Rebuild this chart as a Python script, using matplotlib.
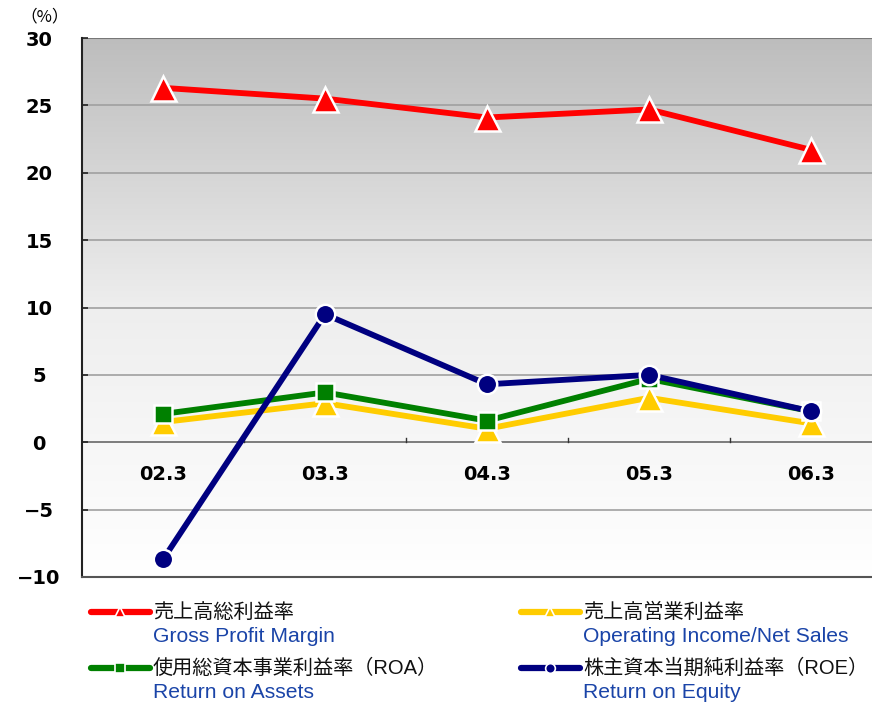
import matplotlib.pyplot as plt
import numpy as np
from matplotlib.lines import Line2D
from matplotlib.colors import LinearSegmentedColormap

# data
periods = ['02.3', '03.3', '04.3', '05.3', '06.3']
gross_margin = [26.3, 25.5, 24.1, 24.7, 21.7]
operating_margin = [1.5, 2.9, 1.0, 3.3, 1.4]
roa = [2.1, 3.7, 1.6, 4.7, 2.3]
roe = [-8.7, 9.5, 4.3, 5.0, 2.3]

jp_labels = ['売上高総利益率', '売上高営業利益率', '使用総資本事業利益率（ROA）', '株主資本当期純利益率（ROE）']
en_labels = ['Gross Profit Margin', 'Operating Income/Net Sales', 'Return on Assets', 'Return on Equity']

W, H = 872, 706
fig = plt.figure(figsize=(W / 100, H / 100), dpi=100)

def fx(px):
    return px / W

def fy(py):
    return 1 - py / H

ax = fig.add_axes([fx(82), fy(577), fx(872) - fx(82), fy(38) - fy(577)])
x = np.arange(len(periods))
ax.set_xlim(-0.5, -0.5 + (872 - 82) / 162)
ax.set_ylim(-10, 30)

# gray-to-white background gradient
grad = np.linspace(0, 1, 256).reshape(-1, 1)
cmap = LinearSegmentedColormap.from_list('bg', ['#ffffff', '#eeeeee', '#bdbdbd'])
ax.imshow(grad, aspect='auto', cmap=cmap, extent=[-0.5, 4.5, -10, 30],
          origin='lower', zorder=0)

for v in range(-5, 30, 5):
    ax.axhline(v, color='#666666' if v == 0 else '#a0a0a0', lw=1.2, zorder=1)
ax.axhline(30, color='#777777', lw=1.5, zorder=1)

for b in [0.5, 1.5, 2.5, 3.5]:
    ax.plot([b, b], [0, 0.35], color='#333333', lw=1, zorder=1)

for s in ['top', 'right']:
    ax.spines[s].set_visible(False)
ax.spines['left'].set_color('#222222')
ax.spines['left'].set_linewidth(1.5)
ax.spines['bottom'].set_color('#555555')
ax.spines['bottom'].set_linewidth(1.5)

ax.set_xticks([])
ax.set_yticks(range(-10, 31, 5))
ax.set_yticklabels([('\u2212' + str(-v) if v < 0 else str(v))
                    for v in range(-10, 31, 5)])
ax.tick_params(axis='y', direction='in', length=4, width=1.2, color='#222222',
               labelsize=14, pad=31)
for t in ax.get_yticklabels():
    t.set_fontweight('bold')
    t.set_horizontalalignment('center')

for i, p in enumerate(periods):
    ax.text(i, -2.4, p, ha='center', va='center', fontsize=14,
            fontweight='bold', zorder=2)

fig.text(fx(45), fy(17), '（%）', ha='center', va='center', fontsize=12,
         family=['Noto Sans CJK JP', 'DejaVu Sans'])

series = [
    (gross_margin, '#ff0000', '^', 18),
    (operating_margin, '#ffcc00', '^', 18),
    (roa, '#008000', 's', 13),
    (roe, '#000080', 'o', 14),
]
for vals, col, mk, ms in series:
    ax.plot(x, vals, color=col, lw=4.2, marker=mk, markersize=ms,
            markerfacecolor=col, markeredgecolor='white', markeredgewidth=1.8,
            zorder=3, clip_on=False)

# legend, drawn by hand below the plot
legend_pos = [(91, 612), (521, 612), (91, 668), (521, 668)]
for (px, py), (vals, col, mk, ms), jp, en in zip(legend_pos, series, jp_labels, en_labels):
    line = Line2D([fx(px), fx(px + 29), fx(px + 59)], [fy(py)] * 3,
                  transform=fig.transFigure, color=col, lw=4.5,
                  solid_capstyle='round', marker=mk, markersize=7,
                  markevery=[1], markerfacecolor=col,
                  markeredgecolor='white', markeredgewidth=1.2)
    fig.add_artist(line)
    fig.text(fx(px + 62), fy(py), jp, ha='left', va='center', fontsize=14.5,
             family=['Liberation Sans', 'Noto Sans CJK JP'], color='#111111')
    fig.text(fx(px + 62), fy(py + 25), en, ha='left', va='center', fontsize=15.2,
             family=['Liberation Sans', 'DejaVu Sans'], color='#1a44a8')

fig.savefig('out.png', dpi=100)
